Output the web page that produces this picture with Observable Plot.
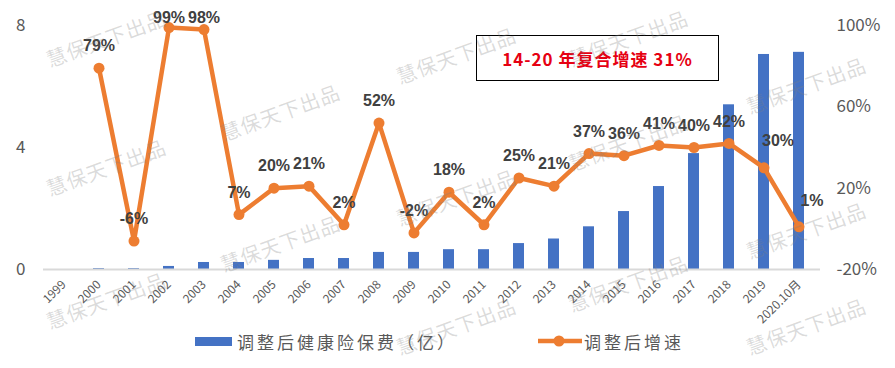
<!DOCTYPE html>
<html><head><meta charset="utf-8">
<script src="https://cdn.jsdelivr.net/npm/d3@7"></script>
<script src="https://cdn.jsdelivr.net/npm/@observablehq/plot@0.6"></script>
<style>
body{margin:0;background:#fff;}
#wrap{position:relative;width:895px;height:368px;overflow:hidden;font-family:"Noto Sans CJK SC","Liberation Sans",sans-serif;}
#chart svg{display:block;}
.box{position:absolute;left:476px;top:35px;width:241px;height:44px;border:1.5px solid #000;display:flex;align-items:center;justify-content:center;color:#E60012;font-weight:bold;font-size:17px;letter-spacing:1px;background:#fff;}
.legend{position:absolute;top:326px;left:0;width:895px;height:30px;font-size:17px;color:#595959;letter-spacing:3px;}
.legend .item{position:absolute;top:0;display:flex;align-items:center;height:30px;}
.wm{position:absolute;font-size:20px;color:rgba(128,128,128,0.28);white-space:nowrap;transform:translate(-50%,-50%) rotate(-20deg);pointer-events:none;letter-spacing:1px;}
</style></head><body>
<div id="wrap"><div id="chart"></div></div>
<script>
const categories = ["1999","2000","2001","2002","2003","2004","2005","2006","2007","2008","2009","2010","2011","2012","2013","2014","2015","2016","2017","2018","2019","2020.10月"];
const premium = [0, 0.03, 0.03, 0.1, 0.23, 0.23, 0.3, 0.36, 0.36, 0.56, 0.56, 0.65, 0.65, 0.85, 1.0, 1.4, 1.9, 2.72, 3.8, 5.4, 7.05, 7.12];
const growth = [null, 79, -6, 99, 98, 7, 20, 21, 2, 52, -2, 18, 2, 25, 21, 37, 36, 41, 40, 42, 30, 1];
const leftTicks = [0, 4, 8];
const rightTicks = [-20, 20, 60, 100];
const barName = "调整后健康险保费（亿）";
const lineName = "调整后增速";
const boxText = "14-20 年复合增速 31%";
const watermarkText = "慧保天下出品";

// layout-only settings (not data): label offsets that differ from the default, watermark spots
const labelShift = {"2002": [0, -10], "2003": [0, -12], "2019": [14, -27], "2020.10月": [13, -26]};
const watermarkSpots = [[106,38],[106,167],[106,300],[280,112],[280,243],[456,55],[456,197],[456,326],[628,38],[628,142],[628,283],[806,85],[806,230],[806,326]];

const toLeft = g => (g + 20) * 8 / 120;
const rows = categories.map((c, i) => ({c, p: premium[i], g: growth[i]}));
const lineRows = rows.filter(d => d.g != null).map(d => ({...d, gy: toLeft(d.g)}));

const labelFont = '"Liberation Sans",Arial,sans-serif';
const labelMarks = [
  Plot.text(lineRows.filter(d => !labelShift[d.c]), {x: "c", y: "gy", text: d => d.g + "%", dy: -22,
    fontSize: 16, fontWeight: "bold", fill: "#404040", fontFamily: labelFont})
];
for (const [cat, [dx, dy]] of Object.entries(labelShift)) {
  labelMarks.push(Plot.text(lineRows.filter(d => d.c === cat), {x: "c", y: "gy", text: d => d.g + "%", dx, dy,
    fontSize: 16, fontWeight: "bold", fill: "#404040", fontFamily: labelFont}));
}

const plot = Plot.plot({
  width: 895, height: 320,
  marginLeft: 43, marginRight: 75, marginTop: 25, marginBottom: 51,
  x: {domain: categories, paddingInner: 0.68, paddingOuter: 0.34, label: null},
  y: {domain: [0, 8], label: null},
  style: {fontFamily: '"Noto Sans CJK SC","Liberation Sans",sans-serif', background: "transparent", overflow: "visible"},
  marks: [
    Plot.barY(rows, {x: "c", y: "p", fill: "#4472C4"}),
    Plot.ruleY([0], {stroke: "#d9d9d9", strokeWidth: 2}),
    Plot.axisY(leftTicks, {anchor: "left", tickSize: 0, tickPadding: 18, fontSize: 17, fill: "#595959", label: null}),
    Plot.axisY(rightTicks.map(toLeft), {anchor: "right", tickSize: 0, tickPadding: 16, fontSize: 17, fill: "#595959", label: null,
      tickFormat: v => Math.round(v * 120 / 8 - 20) + "%"}),
    Plot.axisX({tickRotate: -45, tickSize: 0, tickPadding: 13, fontSize: 12, fill: "#595959", label: null}),
    Plot.line(lineRows, {x: "c", y: "gy", stroke: "#ED7D31", strokeWidth: 4.5, strokeLinejoin: "round"}),
    Plot.dot(lineRows, {x: "c", y: "gy", r: 5.5, fill: "#ED7D31", stroke: "none"}),
    ...labelMarks
  ]
});
document.getElementById("chart").appendChild(plot);

const wrap = document.getElementById("wrap");
const box = document.createElement("div");
box.className = "box"; box.textContent = boxText; wrap.appendChild(box);

const legend = document.createElement("div");
legend.className = "legend";
legend.innerHTML = `<div class="item" style="left:195px"><span style="display:inline-block;width:37px;height:9px;background:#4472C4;margin-right:5px"></span>${barName}</div>
<div class="item" style="left:538px"><svg width="44" height="14" style="margin-right:2px"><line x1="0" y1="7" x2="44" y2="7" stroke="#ED7D31" stroke-width="4.5"/><circle cx="21" cy="7" r="5.5" fill="#ED7D31"/></svg>${lineName}</div>`;
wrap.appendChild(legend);

for (const [x, y] of watermarkSpots) {
  const w = document.createElement("div");
  w.className = "wm"; w.textContent = watermarkText;
  w.style.left = x + "px"; w.style.top = y + "px";
  wrap.appendChild(w);
}
</script>
</body></html>
